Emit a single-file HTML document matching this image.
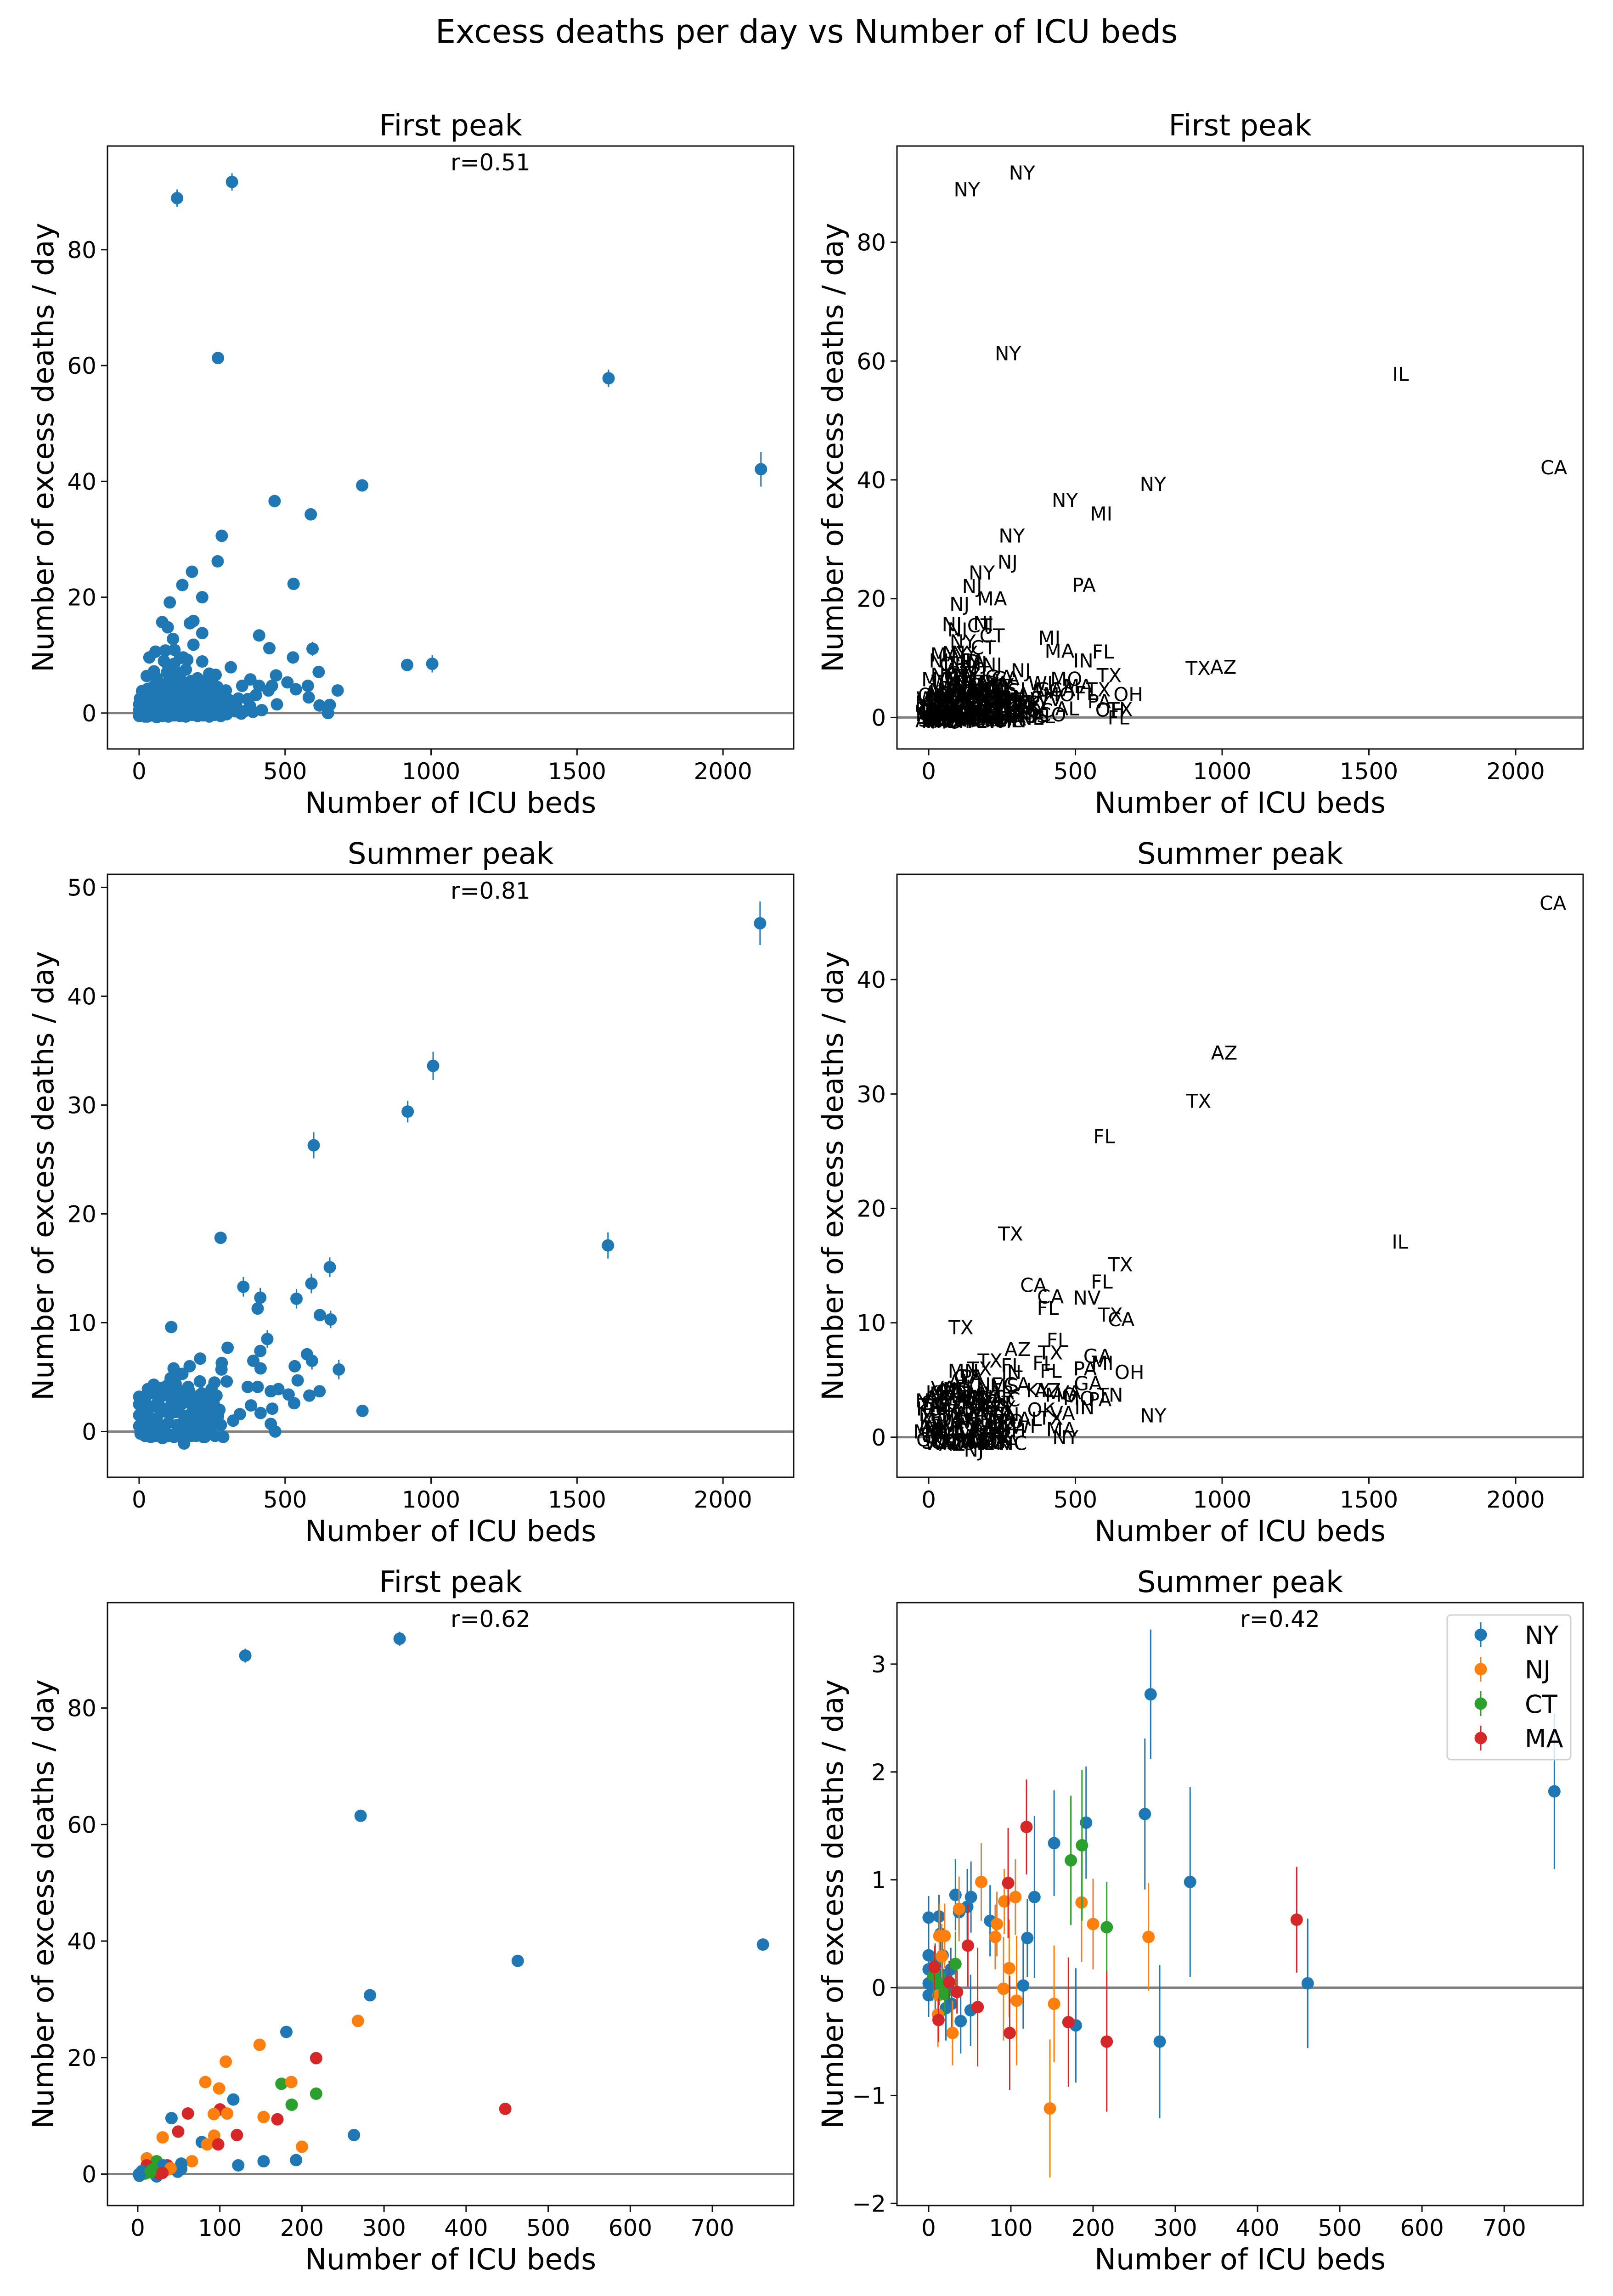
<!DOCTYPE html>
<html><head><meta charset="utf-8"><title>Excess deaths per day vs Number of ICU beds</title>
<style>html,body{margin:0;padding:0;background:#fff;width:3512px;height:5019px;overflow:hidden}svg{display:block;position:absolute;left:0;top:0}text{font-family:"DejaVu Sans","Liberation Sans",sans-serif}</style>
</head><body>
<svg id="fig" xmlns="http://www.w3.org/2000/svg" width="3512" height="5019" viewBox="0 0 3512 5019" overflow="hidden">
<rect x="0" y="0" width="3512" height="5019" fill="#fff"/>
<text x="1756" y="93" font-size="70" text-anchor="middle" fill="#000">Excess deaths per day vs Number of ICU beds</text>
</svg>
<script>
// ---------- data: first peak (all counties) ----------
const firstBeds = [130,318,270,1608,2130,764,464,588,283,269,181,148,529,105,216,79,98,174,186,116,186,216,411,446,594,527,918,1004,615,680,469,314,216,35,56,90,121,151,165,26,51,104,130,107,177,235,262,218,253,297,353,381,411,443,455,508,537,578,581,618,653,647,472,390,372,332,279,314,
5,10,15,20,25,30,35,40,45,50,55,60,65,70,75,80,85,90,95,100,105,110,115,120,125,130,135,140,145,150,155,160,165,170,175,180,185,190,195,200,205,210,215,220,225,230,240,250,260,270,280,290,300,0,0,0,3,8,12,18,22,28,33,38,48,58,68,78,88,98,108,118,128,138,148,158,168,178,188,198,208,218,228,238,248,258,268,278,320,340,360,380,400,420,100,110,95,120,85,60,140,160,200,240,250,
20,40,60,80,100,120,140,160,180,200,220,240,260,280,300,330,350,10,30,50,70,90,110,130,150,170,190,210,230,250,270,290,310];
const firstDeaths = [88.9,91.7,61.3,57.8,42.1,39.3,36.6,34.3,30.6,26.2,24.4,22.1,22.3,19.1,20,15.7,14.8,15.5,15.9,12.8,11.8,13.8,13.4,11.2,11.1,9.6,8.3,8.5,7.1,3.9,6.5,7.9,8.9,9.6,10.6,10.8,10.9,9.6,9.2,6.4,7.2,7.4,7.0,5.8,5.5,5.8,6.6,4.7,3.9,3.9,4.7,5.8,4.7,3.9,4.7,5.3,4.1,4.7,2.7,1.3,1.4,0,1.5,0.2,2.4,1.7,-0.5,2.0,
0,1,2,0.5,-0.3,1.5,2.5,0.2,1,3,-0.5,0.8,2,4,1.2,-0.2,2.8,5,0.5,1.8,3.5,-0.3,2.2,4.5,0.9,1.5,3,6,0.3,2.5,1,4,-0.2,2,3.2,0.6,1.7,5,0.2,2.6,1.1,3.8,-0.1,1.9,0.7,2.9,1.3,0.4,2.2,1,3.3,0.5,1.8,0.5,1.5,-0.5,2.5,-0.4,3.2,1.2,2.7,-0.6,0.6,3.8,1.9,-0.2,2.9,0.4,1.3,-0.5,0.9,-0.2,5.5,0.1,4.8,2.8,0.5,1,-0.3,3.6,0.4,0,5.2,3,2,0.2,4.5,1.6,0.8,2.5,0.3,1.2,3.1,0.5,8,6.5,7,8.5,9,6,9.5,7.5,6,6.8,5.5,
-0.6,-0.4,-0.7,-0.5,-0.6,-0.4,-0.5,-0.6,-0.3,-0.5,-0.4,-0.6,-0.3,-0.5,-0.2,0.3,-0.1,3.8,4.2,4.6,3.6,4.2,3.9,3.7,4.4,3.5,4.1,3.2,3.4,2.8,3.0,2.6,2.2];
const firstErr = [1.5,1.5,1,1.5,3,1,1,1,1,1,1,1,1,1,1,1,1,1,1,1,1,1,1,1,1.2,1,1,1.5,1,1];
const firstStates = "NY NY NY IL CA NY NY MI NY NJ NY NJ PA NJ MA NJ NJ CT NJ NY CT CT MI MA FL IN TX AZ TX OH MO NJ NJ NJ MA NY NY PA NJ MA NY CT NY MA NY PA GA CA FL GA LA WI GA MO CA MA FL TX PA OH TX FL AL AL KY TX FL GA".split(" ");
const clusterStates = "TX GA KY VA NC MO IN OH TN MI FL CA LA AL WI PA MN IA KS NE OK AR MS SC WV CO AZ NM UT NV OR WA ID MT".split(" ");

// ---------- data: summer peak (all counties) ----------
const summerBeds = [2127,1007,920,598,1606,279,110,357,415,406,539,590,653,619,656,439,303,415,575,592,684,209,283,282,391,416,533,543,173,133,300,372,406,451,477,512,531,583,618,765,383,416,456,451,466,345,322,288,154,221,
0,0,0,0,5,10,15,20,25,30,35,40,45,50,55,60,65,70,75,80,85,90,95,100,105,110,115,120,125,130,135,140,145,150,155,160,165,170,175,180,185,190,195,200,205,210,215,220,225,230,235,240,245,250,255,260,265,270,275,280,12,28,48,68,88,108,128,148,118,168,188,208,228,248,258,
20,40,60,80,100,120,140,160,180,200,220,240,260,30,50,70,90,110,130,150,170,190,210,230];
const summerDeaths = [46.7,33.6,29.4,26.3,17.1,17.8,9.6,13.3,12.3,11.3,12.2,13.6,15.1,10.7,10.3,8.5,7.7,7.4,7.1,6.5,5.7,6.7,6.3,5.7,6.5,5.8,6.0,4.7,6.0,5.3,4.6,4.1,4.1,3.7,3.9,3.4,2.6,3.3,3.7,1.9,2.4,1.7,2.1,0.7,0.0,1.6,1.0,-0.5,-1.1,-0.5,
0.5,1.5,2.5,3.2,-0.2,1,2,3,0.2,1.5,3.5,0.5,2.3,3.8,-0.4,1.2,2.8,0.3,1.8,3.3,-0.5,2.1,4.2,0.8,1.6,3,-0.3,2.4,4.4,0.6,1.9,3.4,0.1,2.6,1.1,3.6,-0.2,1.5,2.9,0.4,2,3.1,-0.4,1.3,2.5,0.7,3.5,1.7,-0.5,2.2,1,3,0.3,1.8,2.6,0.9,3.3,1.4,2,0.6,2.8,0.9,-0.1,4,0.5,4.9,1.8,5.3,5.8,4.1,0.8,4.6,0.2,3.9,4.5,
-0.4,-0.5,-0.3,-0.6,-0.4,-0.5,-0.3,-0.5,-0.4,-0.3,-0.5,-0.2,-0.4,3.9,4.3,3.7,4.1,3.6,3.9,3.5,3.8,3.2,3.4,2.8];
const summerErr = [2,1.3,1,1.2,1.2,0.5,0.5,0.9,0.9,0.5,0.9,0.9,0.9,0.5,0.8,0.8,0.5,0.5,0.5,0.8,0.9];
const summerStates = "CA AZ TX FL IL TX TX CA CA FL NV FL TX TX CA FL AZ TX GA MI OH TX FL IN FL FL PA GA TX GA CA KY AZ MO VA MO IN PA TN NY OK TX VA MA NY AL WI NC NJ NY".split(" ");

// ---------- data: first peak, north-east states ----------
const neFirstBeds = [131,319,271.5,761.6,462.9,282.9,268.2,181,148.4,217.3,107.2,82.3,175,187,99.1,217.3,116.4,187.5,447.7,61.1,100.2,92.6,108.9,153.3,170.1,41.1,49.2,30.3,263.4,120.8,93.1,78,84.5,98,200,66,122.4,153.3,192.9,53,53,48.6,11,23,11,36,1.5,9,23,26,37,31,18,5,15,40,2,30];
const neFirstDeaths = [89.0,91.9,61.5,39.4,36.6,30.7,26.3,24.4,22.2,19.9,19.3,15.8,15.5,15.8,14.7,13.8,12.8,11.9,11.2,10.4,11.1,10.3,10.4,9.8,9.4,9.6,7.3,6.3,6.7,6.7,6.6,5.5,5.1,5.1,4.7,2.2,1.5,2.2,2.4,1.8,0.9,0.4,2.7,2.2,1.5,1.5,0,0.1,-0.4,0.1,0.8,1.5,0.8,0.5,0.3,1.0,-0.3,0.2];
const neFirstState = ["NY","NY","NY","NY","NY","NY","NJ","NY","NJ","MA","NJ","NJ","CT","NJ","NJ","CT","NY","CT","MA","MA","MA","NJ","NJ","NJ","MA","NY","MA","NJ","NY","MA","NJ","NY","NJ","MA","NJ","NJ","NY","NY","NY","NY","NY","NY","NJ","CT","MA","MA","NY","CT","NY","MA","NJ","NY","CT","NY","CT","NJ","NY","MA"];

// ---------- data: summer peak, north-east states ----------
const neSummerBeds = [0,12.6,32.6,51.5,37,47,14.4,74.7,120,128.7,152.6,191.5,263,270,318,761,461,281,179,115,39,51,28,21,0,0,0,0,8,16,24,8,17,27,5,
64,92,105.5,37,83,81,19.5,13,16,186,200,267.4,98,91,107,152.6,147.5,29,11.3,12,
173,186.5,216.6,32.6,6,19.5,13,
119,96.7,47.7,7,25,34.5,12,59.6,98.6,170,216.6,447.6];
const neSummerDeaths = [0.65,0.66,0.86,0.84,0.70,0.75,0.5,0.62,0.46,0.84,1.34,1.53,1.61,2.72,0.98,1.82,0.04,-0.50,-0.35,0.02,-0.31,-0.21,-0.15,-0.19,0.3,0.17,0.04,-0.07,0.21,0.12,0,-0.05,0.3,0.17,0.08,
0.98,0.80,0.84,0.73,0.59,0.47,0.48,0.48,0.29,0.79,0.59,0.47,0.18,-0.01,-0.12,-0.15,-1.12,-0.42,-0.25,-0.07,
1.18,1.32,0.56,0.22,0.11,-0.06,0.04,
1.49,0.97,0.39,0.19,0.05,-0.04,-0.3,-0.18,-0.42,-0.32,-0.50,0.63];
const neSummerErr = [0.2,0.2,0.33,0.33,0.2,0.35,0.2,0.33,0.36,0.75,0.49,0.52,0.7,0.6,0.88,0.72,0.6,0.71,0.53,0.4,0.3,0.33,0.3,0.3,0.2,0.2,0.2,0.2,0.2,0.2,0.2,0.2,0.2,0.2,0.2,
0.36,0.3,0.35,0.3,0.3,0.3,0.3,0.3,0.3,0.55,0.42,0.5,0.45,0.48,0.6,0.54,0.64,0.3,0.3,0.3,
0.6,0.7,0.42,0.3,0.2,0.2,0.2,
0.44,0.51,0.38,0.2,0.2,0.2,0.2,0.55,0.53,0.6,0.65,0.49];
const neSummerState = [].concat(Array(35).fill("NY"), Array(20).fill("NJ"), Array(7).fill("CT"), Array(12).fill("MA"));

const stateColors = {NY:"#1f77b4", NJ:"#ff7f0e", CT:"#2ca02c", MA:"#d62728"};
const legendLabels = ["NY","NJ","CT","MA"];
const firstTicksX = [0,500,1000,1500,2000];
const neTicksX = [0,100,200,300,400,500,600,700];
const ticksY80 = [0,20,40,60,80];
const ticksY40 = [0,10,20,30,40];
const ticksY50 = [0,10,20,30,40,50];
const ticksYne = [-2,-1,0,1,2,3];

// ---------- drawing ----------
const NS = "http://www.w3.org/2000/svg";
const fig = document.getElementById("fig");
function mk(tag, attrs, parent) {
  const e = document.createElementNS(NS, tag);
  for (const k in attrs) e.setAttribute(k, attrs[k]);
  (parent || fig).appendChild(e);
  return e;
}
const W = 1494, H = 1313;
let clipId = 0;

function panel(cfg) {
  const g = mk("g", {});
  
  
  const L = cfg.left, T = cfg.top;
  const sx = v => L + (v - cfg.xmin) / (cfg.xmax - cfg.xmin) * W;
  const sy = v => T + (cfg.ymax - v) / (cfg.ymax - cfg.ymin) * H;
  const cid = "clip" + (clipId++);
  const cp = mk("clipPath", {id: cid}, g);
  mk("rect", {x: L, y: T, width: W, height: H}, cp);
  const plot = mk("g", {"clip-path": "url(#" + cid + ")"}, g);
  
  
  const zl = mk("line", {x1: L, x2: L + W, y1: sy(0), y2: sy(0), stroke: "#808080", "stroke-width": 5}, plot);
  
  
  cfg.draw(plot, sx, sy);
  const fr = mk("rect", {x: L, y: T, width: W, height: H, fill: "none", stroke: "#111", "stroke-width": 3}, g);
  
  
  cfg.xticks.forEach(v => {
    const x = sx(v);
    const tk = mk("line", {x1: x, x2: x, y1: T + H, y2: T + H + 14, stroke: "#111", "stroke-width": 3}, g);
    
    
    const t = mk("text", {x: x, y: T + H + 66, "font-size": 50, "text-anchor": "middle"}, g);
    t.textContent = v;
    
    
  });
  cfg.yticks.forEach(v => {
    const y = sy(v);
    const tk = mk("line", {x1: L - 14, x2: L, y1: y, y2: y, stroke: "#111", "stroke-width": 3}, g);
    
    
    const t = mk("text", {x: L - 24, y: y + 18, "font-size": 50, "text-anchor": "end"}, g);
    t.textContent = v < 0 ? "\u2212" + (-v) : v;
    
    
  });
  const ti = mk("text", {x: L + W / 2, y: T - 23, "font-size": 64, "text-anchor": "middle"}, g);
  ti.textContent = cfg.title;
  
  
  const xl = mk("text", {x: L + W / 2, y: T + H + 139, "font-size": 63, "text-anchor": "middle"}, g);
  xl.textContent = "Number of ICU beds";
  
  
  const yx = L - 140, yy = T + H / 2;
  const yl = mk("text", {x: yx, y: yy + 22, "font-size": 63, "text-anchor": "middle", transform: "rotate(-90 " + yx + " " + yy + ")"}, g);
  yl.textContent = "Number of excess deaths / day";
  
  
  if (cfg.r) {
    const rt = mk("text", {x: L + W / 2, y: T + 53, "font-size": 50}, g);
    rt.textContent = cfg.r;
    
    
  }
  return {g, sx, sy};
}

function dots(plot, sx, sy, xs, ys, errs, colorOf, defErr) {
  xs.forEach((x, i) => {
    const y = ys[i];
    const e = errs[i] !== undefined ? errs[i] : defErr;
    const c = colorOf(i);
    const eb = mk("line", {x1: sx(x), x2: sx(x), y1: sy(y + e), y2: sy(y - e), stroke: c, "stroke-width": 3}, plot);
    
    
    const p = mk("circle", {cx: sx(x), cy: sy(y), r: 13.5, fill: c}, plot);
    
    
  });
}
function labels(plot, sx, sy, xs, ys, states) {
  xs.forEach((x, i) => {
    const t = mk("text", {x: sx(x), y: sy(ys[i]) + 15, "font-size": 42, "text-anchor": "middle"}, plot);
    t.textContent = states[i] || clusterStates[i % clusterStates.length];
    
    
  });
}
const blue = () => "#1f77b4";

panel({name: "first-peak-scatter", left: 234, top: 318, xmin: -108.5, xmax: 2242, ymin: -6.2, ymax: 97.9,
  xticks: firstTicksX, yticks: ticksY80, title: "First peak", r: "r=0.51",
  draw: (p, sx, sy) => dots(p, sx, sy, firstBeds, firstDeaths, firstErr, blue, 0.5)});
panel({name: "first-peak-labels", left: 1953, top: 318, xmin: -108, xmax: 2230, ymin: -5.3, ymax: 96.2,
  xticks: firstTicksX, yticks: ticksY80, title: "First peak",
  draw: (p, sx, sy) => labels(p, sx, sy, firstBeds, firstDeaths, firstStates)});
panel({name: "summer-peak-scatter", left: 234, top: 1904, xmin: -108.5, xmax: 2242, ymin: -4.2, ymax: 51.2,
  xticks: firstTicksX, yticks: ticksY50, title: "Summer peak", r: "r=0.81",
  draw: (p, sx, sy) => dots(p, sx, sy, summerBeds, summerDeaths, summerErr, blue, 0.4)});
panel({name: "summer-peak-labels", left: 1953, top: 1904, xmin: -108, xmax: 2230, ymin: -3.5, ymax: 49.2,
  xticks: firstTicksX, yticks: ticksY40, title: "Summer peak",
  draw: (p, sx, sy) => labels(p, sx, sy, summerBeds, summerDeaths, summerStates)});
panel({name: "first-peak-northeast", left: 234, top: 3490, xmin: -36.9, xmax: 799, ymin: -5.4, ymax: 98.1,
  xticks: neTicksX, yticks: ticksY80, title: "First peak", r: "r=0.62",
  draw: (p, sx, sy) => dots(p, sx, sy, neFirstBeds, neFirstDeaths, [1.2,1.2], i => stateColors[neFirstState[i]], 0.3)});
panel({name: "summer-peak-northeast", left: 1953, top: 3490, xmin: -38.5, xmax: 796, ymin: -2.02, ymax: 3.57,
  xticks: neTicksX, yticks: ticksYne, title: "Summer peak", r: "r=0.42",
  draw: (p, sx, sy) => dots(p, sx, sy, neSummerBeds, neSummerDeaths, neSummerErr, i => stateColors[neSummerState[i]], 0.2)});

// legend
const lg = mk("g", {});


mk("rect", {x: 3151, y: 3517, width: 269, height: 315, rx: 8, fill: "#fff", "fill-opacity": 0.8, stroke: "#d0d0d0", "stroke-width": 3}, lg);
legendLabels.forEach((s, i) => {
  const y = 3560 + i * 75;
  const en = mk("g", {}, lg);
  
  
  mk("line", {x1: 3224, x2: 3224, y1: y - 27, y2: y + 27, stroke: stateColors[s], "stroke-width": 3}, en);
  mk("circle", {cx: 3224, cy: y, r: 13.5, fill: stateColors[s]}, en);
  const t = mk("text", {x: 3320, y: y + 20, "font-size": 54}, en);
  t.textContent = s;
  
  
});
</script>
</body></html>
